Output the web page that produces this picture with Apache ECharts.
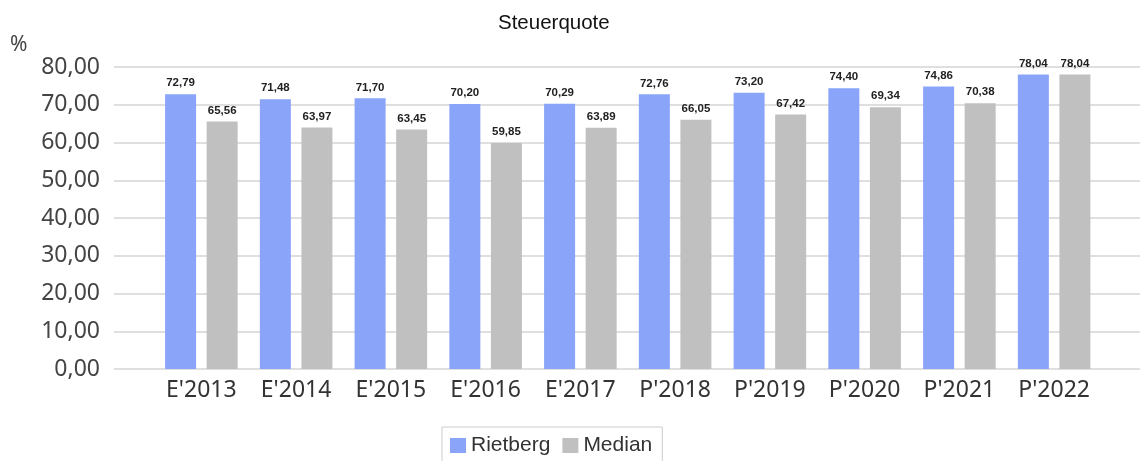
<!DOCTYPE html>
<html>
<head>
<meta charset="utf-8">
<script src="https://cdn.jsdelivr.net/npm/echarts@6/dist/echarts.min.js"></script>
<style>
  html, body { margin: 0; padding: 0; background: #fff; }
  #main { width: 1140px; height: 461px; }
</style>
</head>
<body>
<div id="main"></div>
<script>
// Steuerquote chart
const categories = ["E'2013", "E'2014", "E'2015", "E'2016", "E'2017", "P'2018", "P'2019", "P'2020", "P'2021", "P'2022"];
const rietberg = [72.79, 71.48, 71.70, 70.20, 70.29, 72.76, 73.20, 74.40, 74.86, 78.04];
const median = [65.56, 63.97, 63.45, 59.85, 63.89, 66.05, 67.42, 69.34, 70.38, 78.04];
const yTicks = { min: 0, max: 80, interval: 10 };

const fmt = v => v.toFixed(2).replace('.', ',');

let chart = echarts.init(document.getElementById('main'), null, { renderer: 'canvas' });

chart.setOption({
  animation: false,
  title: [
    {
      text: 'Steuerquote',
      left: 493, top: 8,
      textStyle: { fontFamily: 'Liberation Sans', fontSize: 20.5, fontWeight: 'normal', color: '#111' }
    },
    {
      text: '%',
      left: 5, top: 30,
      textStyle: { fontFamily: 'Noto Sans', fontSize: 21, fontWeight: 'normal', color: '#444' }
    }
  ],
  legend: {
    data: ['Rietberg', 'Median'],
    left: 442, top: 427,
    padding: [8, 10, 8, 8],
    borderColor: '#cccccc',
    borderWidth: 1,
    itemWidth: 16,
    itemHeight: 15,
    itemGap: 12,
    icon: 'rect',
    textStyle: { fontFamily: 'Liberation Sans', fontSize: 21, color: '#333' }
  },
  grid: [
    { left: 114, right: 0, top: 67, bottom: 92 },
    { left: 154, right: 38.5, top: 67, bottom: 92 }
  ],
  xAxis: [
    { gridIndex: 0, type: 'value', show: false, min: 0, max: 1 },
    {
      gridIndex: 1,
      type: 'category',
      data: categories,
      axisLine: { show: false },
      axisTick: { show: false },
      axisLabel: { fontFamily: 'Noto Sans', fontSize: 23, color: '#333', margin: 10 }
    }
  ],
  yAxis: [
    {
      gridIndex: 0,
      type: 'value',
      min: yTicks.min, max: yTicks.max, interval: yTicks.interval,
      axisLine: { show: false },
      axisTick: { show: false },
      axisLabel: {
        fontFamily: 'Noto Sans', fontSize: 23, color: '#444', margin: 14,
        formatter: v => fmt(v)
      },
      splitLine: { lineStyle: { color: '#d4d4d4', width: 1.5 } }
    },
    {
      gridIndex: 1,
      type: 'value',
      min: yTicks.min, max: yTicks.max, interval: yTicks.interval,
      show: false,
      splitLine: { show: false }
    }
  ],
  series: [
    {
      name: 'Rietberg',
      type: 'bar',
      xAxisIndex: 1, yAxisIndex: 1,
      data: rietberg,
      barWidth: 31,
      barGap: '34%',
      itemStyle: { color: '#89a4f8' },
      label: {
        show: true, position: 'top', distance: 5,
        fontFamily: 'Liberation Sans', fontSize: 11.5, fontWeight: 'bold', color: '#222',
        formatter: p => fmt(p.value)
      }
    },
    {
      name: 'Median',
      type: 'bar',
      xAxisIndex: 1, yAxisIndex: 1,
      data: median,
      barWidth: 31,
      itemStyle: { color: '#c0c0c0' },
      label: {
        show: true, position: 'top', distance: 5,
        fontFamily: 'Liberation Sans', fontSize: 11.5, fontWeight: 'bold', color: '#222',
        formatter: p => fmt(p.value)
      }
    }
  ]
});
</script>
</body>
</html>
